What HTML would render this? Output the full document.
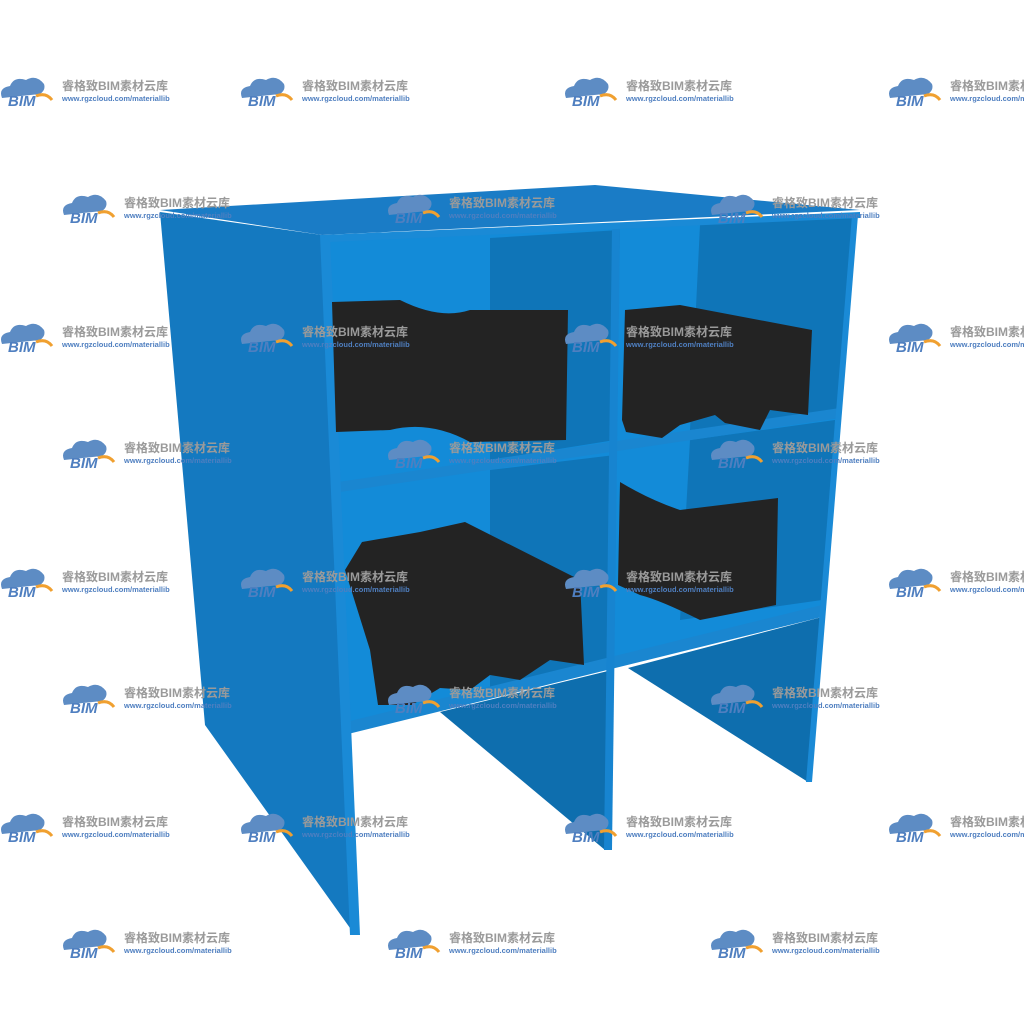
<!DOCTYPE html>
<html><head><meta charset="utf-8"><style>
html,body{margin:0;padding:0;background:#fff;}
svg{display:block}
</style></head><body>
<svg width="1024" height="1024" viewBox="0 0 1024 1024" xmlns="http://www.w3.org/2000/svg">
<defs>
<g id="wm">
  <path d="M4,22 q-4,-10 8,-12 q4,-10 16,-6 q10,-6 18,4 q2,6 -4,10 z" fill="#5d8cc4"/>
  <path d="M38,20 q10,-4 16,4" stroke="#f0a030" stroke-width="3" fill="none"/>
  <text x="10" y="30" font-family="Liberation Sans,sans-serif" font-size="15" font-weight="bold" font-style="italic" fill="#4f7fc0">BIM</text>
  <text x="64" y="14" font-family="Liberation Sans,'Noto Sans CJK SC',sans-serif" font-size="12" font-weight="bold" fill="#9a9a9a">睿格致BIM素材云库</text>
  <text x="64" y="25" font-family="Liberation Sans,sans-serif" font-size="7.5" font-weight="bold" fill="#4f7fc0">www.rgzcloud.com/materiallib</text>
</g>
</defs>
<!-- left outer panel -->
<polygon points="160,212 322,235 355,935 205,725" fill="#1479c0"/>
<!-- top -->
<polygon points="160,210 595,185 860,210 322,235" fill="#1a7cc6"/>
<!-- interior back (stops at bottom shelf) -->
<polygon points="328,240 855,215 822,612 346,732" fill="#138bd8"/>
<!-- darker back side areas -->
<polygon points="490,238 620,230 615,440 490,460" fill="#0f75b8"/>
<polygon points="700,225 852,218 840,412 690,430" fill="#0f75b8"/>
<polygon points="490,470 615,455 610,665 490,695" fill="#0f75b8"/>
<polygon points="690,440 835,420 822,600 680,620" fill="#0f75b8"/>
<!-- divider below shelf (wedge) -->
<polygon points="440,712 612,670 605,850" fill="#0e6eae"/>
<!-- right panel below shelf (wedge) -->
<polygon points="628,668 822,617 808,782" fill="#0e6eae"/>
<!-- shelves -->
<polygon points="338,482 840,408 840,418 340,492" fill="#1a86d0"/>
<polygon points="346,722 822,605 822,617 348,734" fill="#1a86d0"/>
<!-- divider -->
<polygon points="612,228 620,228 612,850 604,850" fill="#1784d0"/>
<!-- front edges -->
<polygon points="320,235 330,235 360,935 350,935" fill="#1a8ad6"/>
<polygon points="852,215 858,215 812,782 806,782" fill="#1a8ad6"/>
<polygon points="322,235 860,212 860,218 330,242" fill="#1a8ad6"/>
<!-- black items -->
<path d="M332,302 L400,300 Q440,320 470,310 L568,310 L566,440 L470,442 Q430,420 390,430 L336,432 Z" fill="#232323"/>
<path d="M625,310 L680,305 L812,330 L808,415 L770,410 L760,430 L725,423 L715,415 L680,425 L662,438 L626,432 L622,420 Z" fill="#232323"/>
<path d="M345,570 L362,542 L420,532 L465,522 L580,580 L584,665 L550,660 L520,680 L490,675 L470,690 L440,688 L412,705 L378,705 L370,650 Z" fill="#232323"/>
<path d="M620,482 Q650,500 680,510 L778,498 L776,605 L700,620 Q660,600 640,595 L618,585 Z" fill="#232323"/>
<use href="#wm" x="-2" y="76"/><use href="#wm" x="238" y="76"/><use href="#wm" x="562" y="76"/><use href="#wm" x="886" y="76"/>
<use href="#wm" x="60" y="193"/><use href="#wm" x="385" y="193"/><use href="#wm" x="708" y="193"/>
<use href="#wm" x="-2" y="322"/><use href="#wm" x="238" y="322"/><use href="#wm" x="562" y="322"/><use href="#wm" x="886" y="322"/>
<use href="#wm" x="60" y="438"/><use href="#wm" x="385" y="438"/><use href="#wm" x="708" y="438"/>
<use href="#wm" x="-2" y="567"/><use href="#wm" x="238" y="567"/><use href="#wm" x="562" y="567"/><use href="#wm" x="886" y="567"/>
<use href="#wm" x="60" y="683"/><use href="#wm" x="385" y="683"/><use href="#wm" x="708" y="683"/>
<use href="#wm" x="-2" y="812"/><use href="#wm" x="238" y="812"/><use href="#wm" x="562" y="812"/><use href="#wm" x="886" y="812"/>
<use href="#wm" x="60" y="928"/><use href="#wm" x="385" y="928"/><use href="#wm" x="708" y="928"/>
</svg>
</body></html>
